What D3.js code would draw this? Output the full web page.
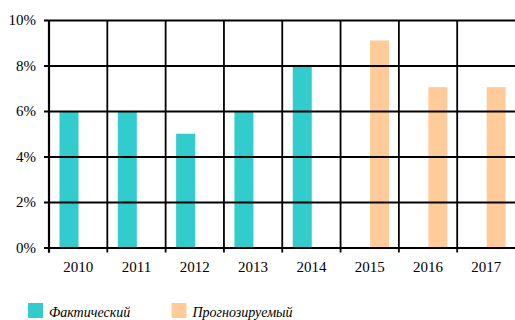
<!DOCTYPE html>
<html>
<head>
<meta charset="utf-8">
<script src="https://cdn.jsdelivr.net/npm/d3@7/dist/d3.min.js"></script>
<style>
  html, body { margin: 0; padding: 0; background: #fff; }
  svg { display: block; }
</style>
</head>
<body>
<svg id="chart" width="515" height="320"></svg>
<script>
// Годы и значения (в процентах)
const years = ["2010", "2011", "2012", "2013", "2014", "2015", "2016", "2017"];
const actual = [6, 6, 5, 6, 8, null, null, null];
const forecast = [null, null, null, null, null, 9.1, 7.05, 7.05];
const seriesNames = ["Фактический", "Прогнозируемый"];
const seriesColors = ["#33CCCC", "#FFCC99"];
const yTicks = [0, 2, 4, 6, 8, 10];

const svg = d3.select("#chart");
const plotLeft = 49, plotRight = 515.5, plotTop = 20, plotBottom = 247.5;
const serif = "Liberation Serif";

const x = d3.scaleBand().domain(years).range([plotLeft, plotRight]).paddingInner(0).paddingOuter(0);
const inner = d3.scaleBand().domain(seriesNames).range([10.5, 48.5]).padding(0);
const y = d3.scaleLinear().domain([0, 10]).range([plotBottom, plotTop]);

// Столбцы
const rows = years.map((yr, i) => ({ year: yr, values: [actual[i], forecast[i]] }));
const gBars = svg.append("g");
rows.forEach(r => {
  r.values.forEach((v, j) => {
    if (v == null) return;
    gBars.append("rect")
      .attr("x", x(r.year) + inner(seriesNames[j]))
      .attr("width", inner.bandwidth())
      .attr("y", y(v))
      .attr("height", y(0) - y(v))
      .attr("fill", seriesColors[j]);
  });
});

// Горизонтальная сетка и ось Y
const yAxis = d3.axisLeft(y)
  .tickValues(yTicks)
  .tickSize(5)
  .tickPadding(8)
  .tickFormat(d => d + "%");
const gy = svg.append("g")
  .attr("transform", `translate(${plotLeft},0)`)
  .call(yAxis)
  .attr("font-family", serif).attr("font-size", 15);
gy.select(".domain").remove();
gy.selectAll(".tick line")
  .attr("x1", -5).attr("x2", plotRight - plotLeft)
  .attr("stroke", "#000").attr("stroke-width", 1.8);
gy.selectAll(".tick text")
  .attr("x", -13)
  .attr("fill", "#000");

// Вертикальная сетка по границам категорий
svg.append("g").selectAll("line")
  .data(years)
  .join("line")
  .attr("x1", d => x(d)).attr("x2", d => x(d))
  .attr("y1", plotTop).attr("y2", plotBottom + 5)
  .attr("stroke", "#000").attr("stroke-width", 1.8);

// Подписи оси X
const xAxis = d3.axisBottom(x).tickSize(0).tickPadding(14);
const gx = svg.append("g")
  .attr("transform", `translate(0,${plotBottom})`)
  .call(xAxis)
  .attr("font-family", serif).attr("font-size", 15);
gx.select(".domain").remove();
gx.selectAll(".tick text").attr("fill", "#000");

// Линия оси Y
svg.append("line")
  .attr("x1", plotLeft).attr("x2", plotLeft).attr("y1", plotTop).attr("y2", plotBottom + 5)
  .attr("stroke", "#000").attr("stroke-width", 2.2);

// Легенда
const legendX = [28, 171.5];
const legend = svg.append("g");
seriesNames.forEach((name, i) => {
  legend.append("rect")
    .attr("x", legendX[i]).attr("y", 303)
    .attr("width", 15).attr("height", 15)
    .attr("fill", seriesColors[i]);
  legend.append("text")
    .attr("x", legendX[i] + 21).attr("y", 317)
    .attr("fill", "#000")
    .attr("font-family", serif).attr("font-size", 14).attr("font-style", "italic")
    .text(name);
});
</script>
</body>
</html>
